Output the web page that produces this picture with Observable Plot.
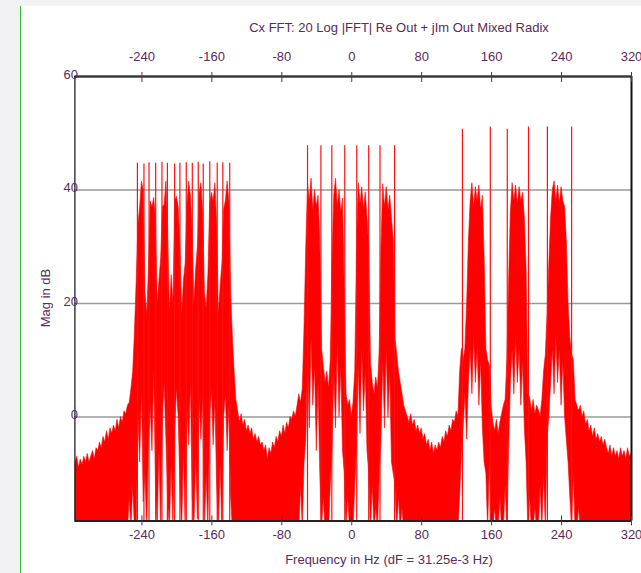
<!DOCTYPE html>
<html><head><meta charset="utf-8">
<script src="https://cdn.jsdelivr.net/npm/d3@7"></script>
<script src="https://cdn.jsdelivr.net/npm/@observablehq/plot@0.6"></script>
<style>
html,body{margin:0;padding:0;width:641px;height:573px;overflow:hidden;background:#f2f2f5;font-family:"Liberation Sans",Arial,sans-serif;}
#panel{position:absolute;left:20px;top:6px;width:621px;height:567px;background:#fff;border-left:1.5px solid #2bc52b;}
#chart{position:absolute;left:0;top:0;}
.lbl{position:absolute;color:#5a2a5a;font-size:13px;white-space:nowrap;line-height:1;}
</style></head><body>
<div id="panel"></div>
<div id="chart"></div>
<div class="lbl" style="left:399px;top:27px;transform:translate(-50%,-50%)">Cx FFT: 20 Log |FFT| Re Out + jIm Out Mixed Radix</div>
<div class="lbl" style="left:389px;top:559px;transform:translate(-50%,-50%)">Frequency in Hz (dF = 31.25e-3 Hz)</div>
<div class="lbl" style="left:45px;top:298px;transform:translate(-50%,-50%) rotate(-90deg)">Mag in dB</div>
<script>
// ---- data ----
const freqStart = -316;   // Hz, first sample
const freqStep = 2;       // Hz between samples
// upper edge (max) of the trace, dB
const magHi = [
  // -316 .. -250
  -8, -7, -9, -7.5, -8.5, -7, -8, -6.5, -8, -7, -6, -7.5, -5.5, -6, -4.5, -5.5, -3.5, -4.5, -2.5, -4,
  -2, -3, -1.5, -2.5, -0.5, -2, 0, -1, 1, 0.5, 2, 2.5, 5, 8,
  // -248 .. -136
  15, 24, 34, 37, 41.5, 40, 22, 18, 26, 38, 37, 38.6, 35, 20, 24, 28, 37, 37.4, 41.5, 33,
  18, 25, 20, 38, 38.8, 37, 30, 18, 24, 27, 37.4, 41.5, 39, 32, 20, 26, 30, 39.5, 41.2, 36,
  22, 19, 25, 37.4, 39.5, 38, 41.2, 34, 18, 23, 27, 36.5, 38, 41.5, 38, 22, 14,
  // -134 .. -62
  8, 3, 1, -1, 0.5, -1.5, -0.5, -2.5, -1.5, -3, -2, -4, -3, -4.5, -3.5, -5, -4.5, -6, -5, -7.5,
  -5.5, -6.5, -4.5, -5.5, -3.5, -4.5, -2.5, -3.5, -1.5, -3, -1, -2, 0, -0.5, 1, 0, 2,
  // -60 .. 66
  4, 2.5, 5, 16, 30, 41, 38, 42, 36.5, 40, 37, 39, 31, 12, 9, 6, 8, 5, 10, 28,
  39, 42, 37, 40, 36, 38.5, 22, 4, 2, 3, 0, 2.5, 8, 30, 41.2, 37.5, 40.5, 36.5, 39.6, 35,
  30, 9.5, 6, 4, 7, 5, 12, 30, 41, 37, 40.5, 36.5, 39, 35, 31, 14, 11, 8, 6, 4,
  2, 1, 0, -1,
  // 68 .. 122
  0.5, -1.5, -0.5, -2.5, -1.5, -3, -2, -4, -3, -5, -4, -6, -4.5, -6.5, -5, -6, -4.5, -5.5, -3.5, -4.5,
  -2.5, -3.5, -1.5, -2.5, -0.5, -1, 1, 0,
  // 124 .. 260
  8, 12, 10, 12, 20, 31, 38, 41.2, 37, 40.5, 38, 40.8, 36.5, 39, 28, 12, 10, 9, 2, -1,
  -2.5, -0.5, -3, -1, 0.5, 2, 3, 10, 24, 36, 41.2, 38, 40.8, 37.5, 40.5, 38, 39.5, 35, 26, 4,
  3.5, 1, 3, 0.5, 2, 1.2, 0, 3, 8, 11, 18, 27, 35, 40, 41.5, 38, 40.8, 37.5, 40.5, 38,
  37, 31, 20, 14, 11, 10, 3, 2, 1,
  // 262 .. 320
  2, 0, 1, -1.5, -0.5, -2.5, -1.5, -3.5, -2, -4, -3, -4.5, -3.5, -5, -4, -5.5, -6.5, -5, -7, -5.5,
  -7, -6, -7.5, -5.5, -7, -6, -7.5, -5.5, -7, -6.5
];
// lower edge (min) of the trace, dB (values under the floor run off the bottom)
const magLo = [
  // -316 .. -250
  -20, -20, -20, -20, -20, -20, -20, -20, -20, -20, -20, -20, -20, -20, -20, -20, -20, -20, -20, -20,
  -20, -20, -20, -20, -20, -20, -20, -20, -20, -20, -20, -14, -20, -12,
  // -248 .. -136
  -20, -20, 0, -8, 5, -15, -10, -20, -5, 2, -6, 8, -12, -20, -6, -20, 0, 6, -4, -15,
  -20, -8, -20, -3, 5, 0, -12, -20, -6, -20, 2, -5, 6, -14, -20, -7, -18, 3, -4, 4,
  -20, -10, -20, 0, 5, -5, 3, -12, -20, -8, -20, 0, 4, -6, 2, -14, -20,
  // -134 .. -62
  -20, -20, -20, -20, -20, -20, -20, -20, -20, -20, -20, -20, -20, -20, -20, -20, -20, -20, -20, -20,
  -20, -20, -20, -20, -20, -20, -20, -20, -20, -20, -20, -20, -20, -20, -20, -20, -20,
  // -60 .. 66
  -20, -12, -20, -8, -4, 10, -2, 14, 2, 9, -6, 6, -10, -20, -14, -20, -18, -20, -12, -6,
  8, -2, 13, 0, 9, -6, -10, -20, -14, -20, -18, -20, -12, -5, 9, -3, 12, 1, 8, -6,
  -10, -20, -12, -20, -16, -20, -10, -4, 10, -2, 12, 0, 8, -8, -10, -12, -20, -14, -20, -16,
  -20, -18, -20, -20,
  // 68 .. 122
  -20, -20, -20, -20, -20, -20, -20, -20, -20, -20, -20, -20, -20, -20, -20, -20, -20, -20, -20, -20,
  -20, -20, -20, -20, -20, -20, -20, -20,
  // 124 .. 260
  -14, -6, -2, 4, -4, 6, 12, 4, 14, 6, 12, 2, 10, -2, -8, -10, -20, -8, -20, -20,
  -16, -20, -20, -14, -20, -20, -12, -20, -6, 6, 12, 4, 14, 6, 12, 2, 10, -2, -8, -20,
  -14, -20, -20, -16, -20, -20, -12, -20, -10, -20, -4, 0, 6, 12, 4, 14, 6, 12, 2, 10,
  0, -4, -8, -14, -20, -10, -20, -20, -16,
  // 262 .. 320
  -20, -20, -20, -20, -20, -20, -20, -20, -20, -20, -20, -20, -20, -20, -20, -20, -20, -20, -20, -20,
  -20, -20, -20, -20, -20, -20, -20, -20, -20, -20
];
// narrow tones (spikes)
const spikeFreq = [-245.2, -237.7, -231.9, -224.3, -217.1, -210.9, -202.6, -196.6, -189.3, -182.4, -175.6, -169.9, -162.4, -153.9, -147.5, -139.6,
  -50.6, -35.3, -22.8, -8.0, 5.7, 19.4, 32.3, 49.0,
  126.6, 158.5, 177.9, 202.2, 223.8, 251.5];
const spikeDb = [44.7, 44.6, 44.8, 44.7, 44.9, 44.7, 44.6, 44.7, 44.8, 44.7, 44.9, 44.6, 45.0, 44.7, 44.8, 44.7,
  47.8, 47.8, 47.8, 47.8, 47.8, 47.8, 47.8, 47.8,
  50.7, 51.1, 50.7, 51.1, 51.1, 51.1];
const xTicks = [-240, -160, -80, 0, 80, 160, 240, 320];
const yTicks = [0, 20, 40, 60];
const gridDb = [0, 20, 40];
const xDomain = [-316.7, 320];
const yDomain = [-18.3, 60];

// ---- build tables ----
const spectrum = magHi.map((h, i) => ({f: freqStart + i * freqStep, hi: h, lo: magLo[i]}));
const spikes = spikeFreq.map((f, i) => ({f, db: spikeDb[i]}));
const txt = "#5a2a5a";
const fmt = d => String(d);

const chart = Plot.plot({
  width: 641, height: 573,
  marginLeft: 74.4, marginRight: 10, marginTop: 76, marginBottom: 52.6,
  style: {background: "transparent", fontFamily: "'Liberation Sans', Arial, sans-serif", fontSize: "13px", color: txt},
  x: {domain: xDomain},
  y: {domain: yDomain},
  marks: [
    Plot.ruleY(gridDb, {stroke: "#9a9a9a", strokeWidth: 1.5}),
    Plot.areaY(spectrum, {x: "f", y1: "lo", y2: "hi", fill: "#ff0000", stroke: "#ff0000", strokeWidth: 0.6, clip: true}),
    Plot.ruleX(spikes, {x: "f", y1: yDomain[0], y2: "db", stroke: "#ff1010", strokeWidth: 1.2, clip: true}),
    Plot.ruleY([yDomain[1]], {stroke: "#3a3a3a", strokeWidth: 2.5}),
    Plot.ruleY([yDomain[0]], {stroke: "#222", strokeWidth: 2}),
    Plot.ruleX([xDomain[0]], {stroke: "#111", strokeWidth: 1.2}),
    Plot.ruleX([xDomain[1]], {stroke: "#111", strokeWidth: 2}),
    Plot.axisX({anchor: "top", ticks: xTicks, tickSize: 5, tickPadding: 11, tickFormat: fmt, label: null, color: txt}),
    Plot.axisX({anchor: "top", ticks: xTicks, tickSize: -5, tickFormat: () => "", label: null, color: txt}),
    Plot.axisX({anchor: "bottom", ticks: xTicks, tickSize: 5, tickPadding: 4, tickFormat: fmt, label: null, color: txt}),
    Plot.axisX({anchor: "bottom", ticks: xTicks, tickSize: -5, tickFormat: () => "", label: null, color: txt}),
    Plot.axisY({ticks: yTicks, tickSize: 0, tickPadding: -3, tickFormat: fmt, label: null, color: txt, dy: -2})
  ]
});
document.getElementById("chart").appendChild(chart);
</script>
</body></html>
